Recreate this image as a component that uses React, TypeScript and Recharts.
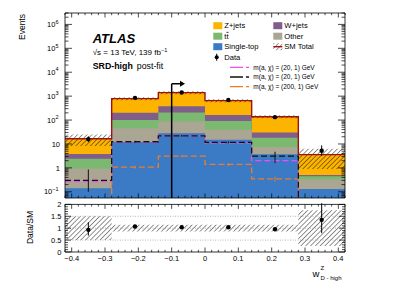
import React from "react";
import {
  ComposedChart,
  Area,
  Line,
  Scatter,
  ErrorBar,
  XAxis,
  YAxis,
  ReferenceLine,
} from "recharts";

const FONT = "'Liberation Sans', Arial, Helvetica, sans-serif";

// binning in w^Z_{D-high}
const binEdges = [-0.42, -0.28, -0.14, 0, 0.14, 0.28, 0.42];
const binCenters = [-0.35, -0.21, -0.07, 0.07, 0.21, 0.35];

// post-fit background yields per bin
const singleTop = [0.14, 12, 28, 15, 3.7, 0.13];
const otherBkg = [0.8, 33, 58, 24, 3.8, 0.2];
const ttbar = [1.45, 55, 122, 53, 10.5, 0.12];
const wjets = [1.4, 103, 172, 70, 12, 0.05];
const zjets = [12.8, 587, 1020, 488, 108, 3.1];

// SM total uncertainty, relative
const smBandLow = [0.5, 0.86, 0.86, 0.86, 0.86, 0.25];
const smBandHigh = [1.5, 1.15, 1.15, 1.15, 1.15, 1.75];

// data
const dataYield = [16, 850, 1420, 690, 132, 5.2];
const dataErrLow = [4, 29, 38, 26, 11, 2];
const dataErrHigh = [5, 29, 38, 26, 12, 3.5];

// signals
const sigMagenta = [0.27, 11.7, 22, 11.2, 2.0, 0.03];
const sigBlack = [0.3, 12.4, 22, 11.7, 3.1, 0.03];
const sigBlackErrLow = [0.2, 1.2, 1.8, 1.2, 1.5, 0];
const sigBlackErrHigh = [0.56, 1.2, 1.8, 1.2, 1.6, 0];
const sigOrange = [0.04, 1.07, 3.1, 1.4, 0.35, 0.02];
const sigOrangeErr = [0, 0.15, 0.3, 0.2, 0.08, 0];

// Data/SM
const ratioVal = [0.93, 1.07, 1.04, 1.04, 0.955, 1.35];
const ratioErrLow = [0.24, 0.04, 0.03, 0.04, 0.08, 0.56];
const ratioErrHigh = [0.32, 0.04, 0.03, 0.04, 0.08, 0.7];

// cut arrow
const cutAt = -0.1;
const cutArrowTo = -0.06;
const cutArrowY = 3300;

const C = {
  z: "#fdb400",
  w: "#7f5e8a",
  tt: "#7bb870",
  other: "#aba694",
  st: "#3b7ac4",
  sm: "#a01014",
  mag: "#ee4ef0",
  blk: "#111111",
  org: "#f07d24",
};

const yDomain: [number, number] = [0.055, 3e6];
const xDomain: [number, number] = [-0.42, 0.42];

const last = binCenters.length - 1;
const stepRows = binEdges.map((x, i) => {
  const b = Math.min(i, last);
  const st = singleTop[b];
  const ot = st + otherBkg[b];
  const tt = ot + ttbar[b];
  const wj = tt + wjets[b];
  const tot = wj + zjets[b];
  return {
    x,
    st,
    ot,
    tt,
    wj,
    tot,
    band: [tot * smBandLow[b], tot * smBandHigh[b]],
    ratioBand: [smBandLow[b], smBandHigh[b]],
    sigM: sigMagenta[b],
    sigK: sigBlack[b],
    sigO: sigOrange[b],
  };
});

const pointRows = binCenters.map((x, i) => ({
  x,
  data: dataYield[i],
  dataErr: [dataErrLow[i], dataErrHigh[i]],
  sigK: sigBlack[i],
  sigKErr: [sigBlackErrLow[i], sigBlackErrHigh[i]],
  sigO: sigOrange[i],
  sigOErr: sigOrangeErr[i],
  ratio: ratioVal[i],
  ratioErr: [ratioErrLow[i], ratioErrHigh[i]],
}));

const xTicks = Array.from({ length: 43 }, (_, i) => Math.round((-0.42 + i * 0.02) * 100) / 100);
const isMajorX = (v: number) => Math.abs(v * 10 - Math.round(v * 10)) < 1e-6;

const logTicks: number[] = [];
for (let k = -2; k <= 6; k++) {
  for (let m = 1; m <= 9; m++) {
    const v = m * Math.pow(10, k);
    if (v >= yDomain[0] && v <= yDomain[1]) logTicks.push(v);
  }
}
const isDecade = (v: number) => Math.abs(Math.log10(v) - Math.round(Math.log10(v))) < 1e-9;

const ratioTicks = Array.from({ length: 21 }, (_, i) => i / 10);
const isMajorR = (v: number) => Math.abs(v * 2 - Math.round(v * 2)) < 1e-6;

const fmtX = (v: number) => {
  if (Math.abs(v) < 1e-9) return "0";
  const s = Math.abs(v).toFixed(1);
  return v < 0 ? `\u2212${s}` : s;
};

const logLabel = (v: number) => {
  const k = Math.round(Math.log10(v));
  if (k === 0) return "1";
  if (k === 1) return "10";
  return (
    <>
      10
      <tspan dy={-3.5} fontSize={5.5}>
        {k < 0 ? `\u2212${-k}` : String(k)}
      </tspan>
    </>
  );
};

const MainLeftTick = (props: any) => {
  const { x, y, payload } = props;
  const v = payload.value;
  const major = isDecade(v);
  const k = Math.round(Math.log10(v));
  const hasSup = major && k !== 0 && k !== 1;
  return (
    <g>
      <line x1={x} x2={x + (major ? 7 : 3.5)} y1={y} y2={y} stroke="#000" strokeWidth={0.7} />
      {major && (
        <text
          x={x - (hasSup ? 6.5 : 5)}
          y={y}
          dy={2.7}
          textAnchor="end"
          fontSize={7.5}
          fontFamily={FONT}
          fill="#000"
        >
          {logLabel(v)}
        </text>
      )}
    </g>
  );
};

const MainRightTick = (props: any) => {
  const { x, y, payload } = props;
  const major = isDecade(payload.value);
  return <line x1={x} x2={x - (major ? 7 : 3.5)} y1={y} y2={y} stroke="#000" strokeWidth={0.7} />;
};

const BottomTick = (props: any) => {
  const { x, y, payload, showLabel } = props;
  const major = isMajorX(payload.value);
  return (
    <g>
      <line x1={x} x2={x} y1={y} y2={y - (major ? 4.5 : 2.2)} stroke="#000" strokeWidth={0.7} />
      {showLabel && major && (
        <text x={x} y={y + 9} textAnchor="middle" fontSize={7.5} fontFamily={FONT} fill="#000">
          {fmtX(payload.value)}
        </text>
      )}
    </g>
  );
};

const TopTick = (props: any) => {
  const { x, y, payload } = props;
  const major = isMajorX(payload.value);
  return <line x1={x} x2={x} y1={y} y2={y + (major ? 4.5 : 2.2)} stroke="#000" strokeWidth={0.7} />;
};

const RatioLeftTick = (props: any) => {
  const { x, y, payload } = props;
  const v = payload.value;
  const major = isMajorR(v);
  return (
    <g>
      <line x1={x} x2={x + (major ? 6 : 3)} y1={y} y2={y} stroke="#000" strokeWidth={0.7} />
      {major && (
        <text x={x - 3.5} y={y} dy={2.7} textAnchor="end" fontSize={7.5} fontFamily={FONT} fill="#000">
          {String(v)}
        </text>
      )}
    </g>
  );
};

const RatioRightTick = (props: any) => {
  const { x, y, payload } = props;
  const major = isMajorR(payload.value);
  return <line x1={x} x2={x - (major ? 6 : 3)} y1={y} y2={y} stroke="#000" strokeWidth={0.7} />;
};

const Dot = (p: any) => <circle cx={p.cx} cy={p.cy} r={2.2} fill="#000" />;
const NoShape = () => <g />;

const HatchDef = ({ id }: { id: string }) => (
  <defs>
    <pattern id={id} patternUnits="userSpaceOnUse" width={3.4} height={3.4} patternTransform="rotate(45)">
      <line x1={0} y1={0} x2={0} y2={3.4} stroke="#000" strokeWidth={0.85} />
    </pattern>
  </defs>
);

const ArrowShape = (p: any) => (
  <g>
    <line x1={p.x1} y1={p.y1} x2={p.x2 - 4} y2={p.y2} stroke="#000" strokeWidth={1.5} />
    <polygon
      points={`${p.x2},${p.y2} ${p.x2 - 5},${p.y2 - 3} ${p.x2 - 5},${p.y2 + 3}`}
      fill="#000"
    />
  </g>
);

const MainPanel = () => (
  <ComposedChart
    width={399}
    height={200}
    data={stepRows}
    margin={{ top: 3, right: 4, bottom: 0, left: 5 }}
  >
    <HatchDef id="hatchMain" />
    <XAxis
      xAxisId={0}
      dataKey="x"
      type="number"
      domain={xDomain}
      allowDataOverflow
      ticks={xTicks}
      interval={0}
      tickSize={0}
      tickMargin={0}
      tickLine={false}
      tick={<BottomTick showLabel={false} />}
      axisLine={{ stroke: "#000", strokeWidth: 0.8 }}
      height={2}
    />
    <XAxis
      xAxisId="top"
      orientation="top"
      dataKey="x"
      type="number"
      domain={xDomain}
      allowDataOverflow
      ticks={xTicks}
      interval={0}
      tickSize={0}
      tickMargin={0}
      tickLine={false}
      tick={<TopTick />}
      axisLine={{ stroke: "#000", strokeWidth: 0.8 }}
      height={10}
    />
    <YAxis
      yAxisId={0}
      scale="log"
      domain={yDomain}
      allowDataOverflow
      ticks={logTicks}
      interval={0}
      tickSize={0}
      tickMargin={0}
      tickLine={false}
      tick={<MainLeftTick />}
      axisLine={{ stroke: "#000", strokeWidth: 0.8 }}
      width={60}
    />
    <YAxis
      yAxisId="right"
      orientation="right"
      scale="log"
      domain={yDomain}
      allowDataOverflow
      ticks={logTicks}
      interval={0}
      tickSize={0}
      tickMargin={0}
      tickLine={false}
      tick={<MainRightTick />}
      axisLine={{ stroke: "#000", strokeWidth: 0.8 }}
      width={50}
    />

    <Area type="stepAfter" dataKey="tot" baseValue="dataMin" fill={C.z} fillOpacity={1} stroke="none" isAnimationActive={false} />
    <Area type="stepAfter" dataKey="wj" baseValue="dataMin" fill={C.w} fillOpacity={1} stroke="none" isAnimationActive={false} />
    <Area type="stepAfter" dataKey="tt" baseValue="dataMin" fill={C.tt} fillOpacity={1} stroke="none" isAnimationActive={false} />
    <Area type="stepAfter" dataKey="ot" baseValue="dataMin" fill={C.other} fillOpacity={1} stroke="none" isAnimationActive={false} />
    <Area type="stepAfter" dataKey="st" baseValue="dataMin" fill={C.st} fillOpacity={1} stroke="none" isAnimationActive={false} />
    <Area type="stepAfter" dataKey="band" fill="url(#hatchMain)" fillOpacity={1} stroke="none" isAnimationActive={false} />

    <Line type="stepAfter" dataKey="sigO" stroke={C.org} strokeWidth={1.3} strokeDasharray="6 3" dot={false} activeDot={false} isAnimationActive={false} />
    <Line type="stepAfter" dataKey="sigM" stroke={C.mag} strokeWidth={1.3} strokeDasharray="6 3" dot={false} activeDot={false} isAnimationActive={false} />
    <Line type="stepAfter" dataKey="sigK" stroke={C.blk} strokeWidth={1.3} strokeDasharray="6 3" dot={false} activeDot={false} isAnimationActive={false} />
    <Line type="stepAfter" dataKey="tot" stroke={C.sm} strokeWidth={1.4} dot={false} activeDot={false} isAnimationActive={false} />

    <Scatter data={pointRows} dataKey="sigO" shape={NoShape} isAnimationActive={false}>
      <ErrorBar dataKey="sigOErr" direction="y" width={0} stroke={C.org} strokeWidth={1} />
    </Scatter>
    <Scatter data={pointRows} dataKey="sigK" shape={NoShape} isAnimationActive={false}>
      <ErrorBar dataKey="sigKErr" direction="y" width={0} stroke={C.blk} strokeWidth={1} />
    </Scatter>
    <Scatter data={pointRows} dataKey="data" shape={Dot} isAnimationActive={false}>
      <ErrorBar dataKey="dataErr" direction="y" width={0} stroke="#000" strokeWidth={1} />
    </Scatter>

    <ReferenceLine
      segment={[
        { x: cutAt, y: yDomain[0] },
        { x: cutAt, y: cutArrowY },
      ]}
      stroke="#000"
      strokeWidth={1.5}
    />
    <ReferenceLine
      segment={[
        { x: cutAt, y: cutArrowY },
        { x: cutArrowTo, y: cutArrowY },
      ]}
      shape={ArrowShape}
    />
  </ComposedChart>
);

const RatioPanel = () => (
  <ComposedChart
    width={399}
    height={88}
    data={stepRows}
    margin={{ top: 0.4, right: 4, bottom: 6, left: 5 }}
  >
    <HatchDef id="hatchRatio" />
    <XAxis
      xAxisId={0}
      dataKey="x"
      type="number"
      domain={xDomain}
      allowDataOverflow
      ticks={xTicks}
      interval={0}
      tickSize={0}
      tickMargin={0}
      tickLine={false}
      tick={<BottomTick showLabel />}
      axisLine={{ stroke: "#000", strokeWidth: 0.8 }}
      height={30}
    />
    <XAxis
      xAxisId="top"
      orientation="top"
      dataKey="x"
      type="number"
      domain={xDomain}
      allowDataOverflow
      ticks={xTicks}
      interval={0}
      tickSize={0}
      tickMargin={0}
      tickLine={false}
      tick={<TopTick />}
      axisLine={{ stroke: "#000", strokeWidth: 0.8 }}
      height={4}
    />
    <YAxis
      yAxisId={0}
      domain={[0, 2]}
      allowDataOverflow
      ticks={ratioTicks}
      interval={0}
      tickSize={0}
      tickMargin={0}
      tickLine={false}
      tick={<RatioLeftTick />}
      axisLine={{ stroke: "#000", strokeWidth: 0.8 }}
      width={60}
    />
    <YAxis
      yAxisId="right"
      orientation="right"
      domain={[0, 2]}
      allowDataOverflow
      ticks={ratioTicks}
      interval={0}
      tickSize={0}
      tickMargin={0}
      tickLine={false}
      tick={<RatioRightTick />}
      axisLine={{ stroke: "#000", strokeWidth: 0.8 }}
      width={50}
    />
    {[0.5, 1, 1.5].map((v) => (
      <ReferenceLine key={v} y={v} stroke="#9a9a9a" strokeWidth={0.7} strokeDasharray="1 1.5" />
    ))}
    <Area type="stepAfter" dataKey="ratioBand" fill="url(#hatchRatio)" fillOpacity={1} stroke="none" isAnimationActive={false} />
    <Scatter data={pointRows} dataKey="ratio" shape={Dot} isAnimationActive={false}>
      <ErrorBar dataKey="ratioErr" direction="y" width={0} stroke="#000" strokeWidth={1} />
    </Scatter>
  </ComposedChart>
);

const legendEntries = [
  { label: "Z+jets", color: C.z, col: 0, row: 0 },
  { label: "W+jets", color: C.w, col: 1, row: 0 },
  { label: "tt", color: C.tt, col: 0, row: 1 },
  { label: "Other", color: C.other, col: 1, row: 1 },
  { label: "Single-top", color: C.st, col: 0, row: 2 },
];
const signalEntries = [
  { label: "m(a, \u03c7) = (20, 1) GeV", color: C.mag },
  { label: "m(a, \u03c7) = (20, 1) GeV", color: C.blk },
  { label: "m(a, \u03c7) = (200, 1) GeV", color: C.org },
];

const Overlay = () => {
  const rowY = (r: number) => 25.7 + r * 10.5;
  const colX = (c: number) => (c === 0 ? 213.3 : 273.3);
  return (
    <svg width={399} height={288} style={{ position: "absolute", left: 0, top: 0, pointerEvents: "none" }}>
      <defs>
        <pattern id="hatchLeg" patternUnits="userSpaceOnUse" width={3.2} height={3.2} patternTransform="rotate(45)">
          <line x1={0} y1={0} x2={0} y2={3.2} stroke="#000" strokeWidth={0.8} />
        </pattern>
      </defs>
      <g fontFamily={FONT} fill="#000">
        <text x={-27} y={25} transform="rotate(-90)" fontSize={8.5} textAnchor="middle">
          Events
        </text>
        <text x={-227.5} y={33} transform="rotate(-90)" fontSize={8.5} textAnchor="middle">
          Data/SM
        </text>

        <text x={92.7} y={42.7} fontSize={13} fontWeight="bold" fontStyle="italic">
          ATLAS
        </text>
        <text x={92.7} y={55} fontSize={8}>
          {"\u221As = 13 TeV, 139 fb"}
          <tspan dy={-3} fontSize={5.5}>
            {"\u22121"}
          </tspan>
        </text>
        <text x={92.7} y={69} fontSize={8.8}>
          <tspan fontWeight="bold">SRD-high</tspan>
          <tspan dx={4}>post-fit</tspan>
        </text>

        {legendEntries.map((e) => (
          <g key={e.label}>
            <rect x={colX(e.col)} y={rowY(e.row) - 3.5} width={9} height={7} fill={e.color} />
            <text x={colX(e.col) + 11} y={rowY(e.row) + 2.7} fontSize={7.6}>
              {e.label === "tt" ? (
                <>
                  t<tspan style={{ textDecoration: "overline" }}>t</tspan>
                </>
              ) : (
                e.label
              )}
            </text>
          </g>
        ))}
        <rect x={273.3} y={rowY(2) - 3.5} width={9} height={7} fill="url(#hatchLeg)" />
        <line x1={273.3} x2={282.3} y1={rowY(2)} y2={rowY(2)} stroke={C.sm} strokeWidth={1.4} />
        <text x={284.3} y={rowY(2) + 2.7} fontSize={7.6}>
          SM Total
        </text>

        <circle cx={216.7} cy={rowY(3)} r={2} fill="#000" />
        <line x1={216.7} x2={216.7} y1={rowY(3) - 3.5} y2={rowY(3) + 3.5} stroke="#000" strokeWidth={1} />
        <text x={224.3} y={rowY(3) + 2.7} fontSize={7.6}>
          Data
        </text>

        {signalEntries.map((s, i) => {
          const y = 67.3 + i * 9.7;
          return (
            <g key={i}>
              <line x1={230} x2={250} y1={y} y2={y} stroke={s.color} strokeWidth={1.3} strokeDasharray="13 3 3 1" />
              <text x={253.3} y={y + 2.3} fontSize={6.5}>
                {s.label}
              </text>
            </g>
          );
        })}

        <text x={312.5} y={276.5} fontSize={9.5}>
          w
        </text>
        <text x={320.5} y={270.3} fontSize={6}>
          Z
        </text>
        <text x={320.5} y={279.5} fontSize={6}>
          D - high
        </text>
      </g>
    </svg>
  );
};

export default function App() {
  return (
    <div style={{ position: "fixed", left: 0, top: 0, width: 399, height: 288, background: "#fff" }}>
      <div style={{ position: "absolute", left: 0, top: 0 }}>
        <MainPanel />
      </div>
      <div style={{ position: "absolute", left: 0, top: 200 }}>
        <RatioPanel />
      </div>
      <Overlay />
    </div>
  );
}
